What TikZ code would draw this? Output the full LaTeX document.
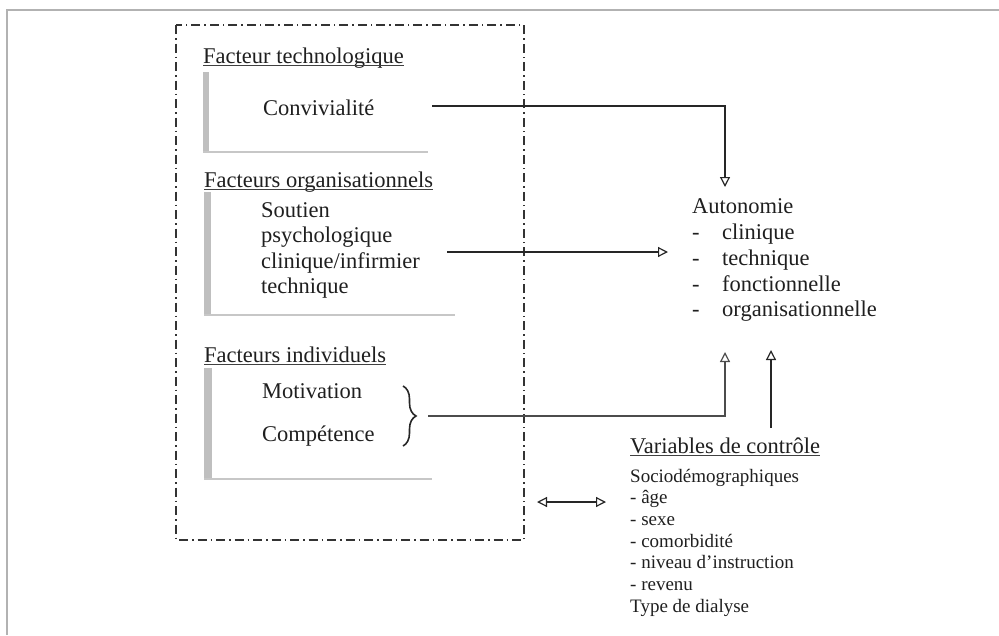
\documentclass[tikz,border=0pt]{standalone}
\usepackage{fontspec}
\setmainfont{Liberation Serif}
\usetikzlibrary{arrows.meta,decorations.pathreplacing}
\begin{document}
\begin{tikzpicture}[x=1pt,y=-1pt,
 txt/.style={anchor=base west,inner sep=0pt,font=\fontsize{22.5}{25.5}\selectfont,text=black!88},
 small/.style={anchor=base west,inner sep=0pt,font=\fontsize{19}{21.5}\selectfont,text=black!88},
 ul/.style={line width=1pt,black!75},
 bar/.style={fill=black!25,draw=none},
 barline/.style={line width=1.5pt,black!22},
 conn/.style={line width=1.3pt,black!85},
 tipend/.style={-{Triangle[open,length=10pt,width=10pt,line width=1.2pt]}},
 frame/.style={line width=2pt,black!30},
 dd/.style={line width=1.1pt,black!80,dash pattern=on 9pt off 4pt on 1.5pt off 4pt}]
\useasboundingbox (0,0) rectangle (999,635);
\draw[frame] (7,635) -- (7,10) -- (999,10);
\draw[dd] (176,25) rectangle (524,540);

% Facteur technologique
\node[txt] (h1) at (203,63) {Facteur technologique};
\draw[ul] ([yshift=-2.5pt]h1.base west) -- ([yshift=-2.5pt]h1.base east);
\fill[bar] (203,72) rectangle (209,152);
\draw[barline] (203,152) -- (428,152);
\node[txt] (conv) at (263,115) {Convivialité};

% Facteurs organisationnels
\node[txt] (h2) at (204,187) {Facteurs organisationnels};
\draw[ul] ([yshift=-2.5pt]h2.base west) -- ([yshift=-2.5pt]h2.base east);
\fill[bar] (204,192) rectangle (211,315);
\draw[barline] (204,315) -- (455,315);
\node[txt] (o1) at (261,217) {Soutien};
\node[txt] (o2) at (261,242.5) {psychologique};
\node[txt] (o3) at (261,268) {clinique/infirmier};
\node[txt] (o4) at (261,293.5) {technique};

% Facteurs individuels
\node[txt] (h3) at (204,362) {Facteurs individuels};
\draw[ul] ([yshift=-2.5pt]h3.base west) -- ([yshift=-2.5pt]h3.base east);
\fill[bar] (204,368) rectangle (212,479);
\draw[barline] (204,479) -- (432,479);
\node[txt] (mot) at (262,398) {Motivation};
\node[txt] (comp) at (262,441) {Compétence};
\draw[line width=1.6pt,black!85,decorate,decoration={brace,amplitude=13pt}] (403,386) -- (403,446);

% Autonomie
\node[txt] (auto) at (692,213) {Autonomie};
\node[txt] (d1) at (692,239) {-};
\node[txt] (d2) at (692,265) {-};
\node[txt] (d3) at (692,291) {-};
\node[txt] (d4) at (692,316) {-};
\node[txt] (a1) at (722,239) {clinique};
\node[txt] (a2) at (722,265) {technique};
\node[txt] (a3) at (722,291) {fonctionnelle};
\node[txt] (a4) at (722,316) {organisationnelle};

% Variables de contrôle
\node[txt] (var) at (630,453) {Variables de contrôle};
\draw[ul] ([yshift=-2.5pt]var.base west) -- ([yshift=-2.5pt]var.base east);
\node[small] (v1) at (630,482) {Sociodémographiques};
\node[small] (v2) at (630,503.5) {- âge};
\node[small] (v3) at (630,525) {- sexe};
\node[small] (v4) at (630,547) {- comorbidité};
\node[small] (v5) at (630,568.5) {- niveau d’instruction};
\node[small] (v6) at (630,590) {- revenu};
\node[small] (v7) at (630,612) {Type de dialyse};

% connector end points
\coordinate (s1) at (432,106);
\coordinate (t1) at (725,187);
\coordinate (s2) at (447,252);
\coordinate (t2) at (668,252);
\coordinate (s3) at (428,416);
\coordinate (t3) at (725,352);
\coordinate (s4) at (771,428);
\coordinate (t4) at (771,350);
\coordinate (l5) at (537,502);
\coordinate (r5) at (606,502);

\draw[conn,tipend] (s1) -| (t1);
\draw[conn,tipend] (s2) -- (t2);
\draw[conn,tipend,black!70,line width=1.8pt] (s3) -| (t3);
\draw[conn,tipend] (s4) -- (t4);
\draw[conn,{Triangle[open,length=10pt,width=10pt,line width=1.2pt]}-{Triangle[open,length=10pt,width=10pt,line width=1.2pt]}] (l5) -- (r5);
\end{tikzpicture}
\end{document}
